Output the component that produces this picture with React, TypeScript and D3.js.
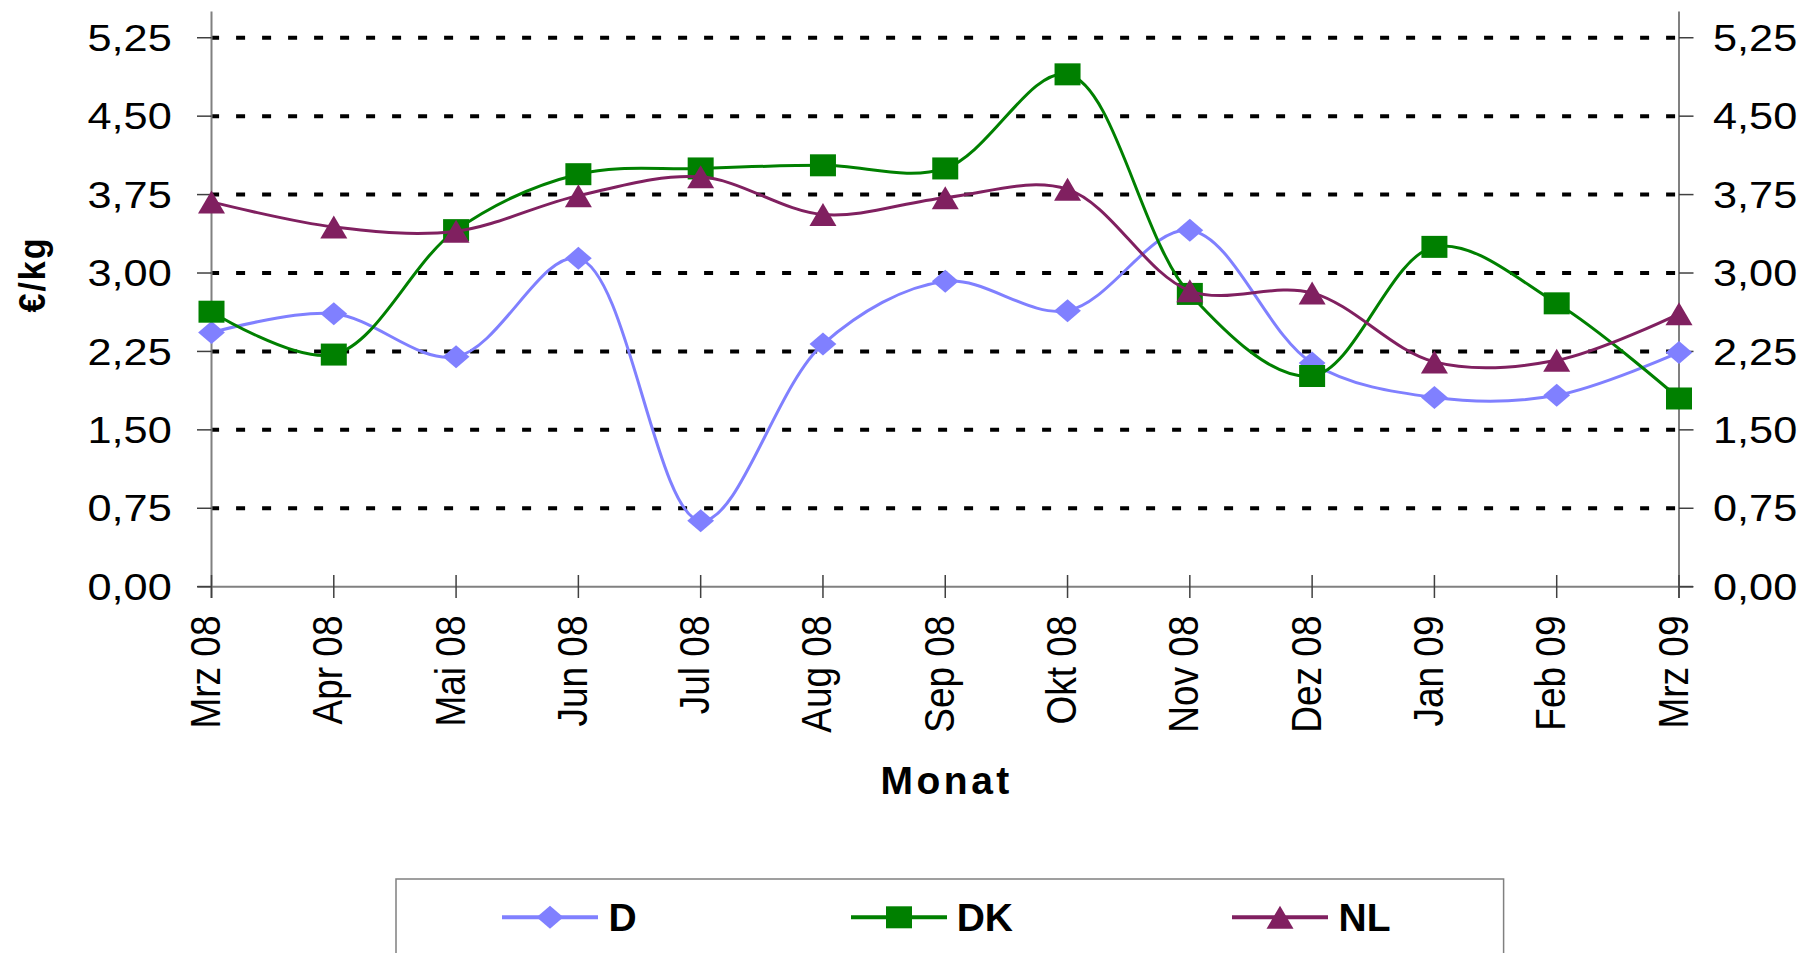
import React from 'react';
import * as d3 from 'd3';

const months = ['Mrz 08', 'Apr 08', 'Mai 08', 'Jun 08', 'Jul 08', 'Aug 08', 'Sep 08', 'Okt 08', 'Nov 08', 'Dez 08', 'Jan 09', 'Feb 09', 'Mrz 09'];
const seriesD = [2.43, 2.61, 2.20, 3.14, 0.63, 2.32, 2.92, 2.64, 3.41, 2.14, 1.81, 1.83, 2.24];
const seriesDK = [2.63, 2.22, 3.41, 3.945, 4.00, 4.03, 4.00, 4.90, 2.80, 2.015, 3.25, 2.71, 1.80];
const seriesNL = [3.68, 3.44, 3.40, 3.74, 3.92, 3.56, 3.72, 3.80, 2.83, 2.81, 2.15, 2.165, 2.61];
const yTicks = [0, 0.75, 1.5, 2.25, 3, 3.75, 4.5, 5.25];
const seriesNames = ['D', 'DK', 'NL'];
const seriesColors = ['#8080FF', '#008000', '#802060'];
const yTitle = '€/kg';
const xTitle = 'Monat';

const FONT = '"Liberation Sans", Arial, sans-serif';

function Marker({ kind, color }: { kind: number; color: string }) {
  if (kind === 0) return <path d="M0,-11.5 L13.4,0 L0,11.5 L-13.4,0 Z" fill={color} />;
  if (kind === 1) return <rect x={-13} y={-11} width={26} height={22} fill={color} />;
  return <path d="M0,-11.5 L13.5,11.5 L-13.5,11.5 Z" fill={color} />;
}

export default function App() {
  const W = 1807;
  const H = 953;
  const x = d3.scalePoint<string>().domain(months).range([211.5, 1679]);
  const y = d3.scaleLinear().domain([0, 5.5]).range([586.7, 11.6]);
  const series = [seriesD, seriesDK, seriesNL];
  const line = d3
    .line<number>()
    .x((_, i) => x(months[i]) as number)
    .y((d) => y(d))
    .curve(d3.curveCatmullRom.alpha(0.5));
  const fmt = (v: number) => v.toFixed(2).replace('.', ',');
  const x0 = x(months[0]) as number;
  const x1 = x(months[months.length - 1]) as number;
  const sx = 1.17;

  const legendLineStarts = [502, 851, 1232];
  const legendTextX = [608.5, 956.7, 1338.6];

  return (
    <svg width={W} height={H} style={{ position: 'absolute', left: 0, top: 0, background: '#fff' }} fontFamily={FONT}>
      <rect x={0} y={0} width={W} height={H} fill="#fff" />
      {/* gridlines */}
      {yTicks.filter((t) => t > 0).map((t) => (
        <line key={'g' + t} x1={x0} x2={x1} y1={y(t)} y2={y(t)} stroke="#000" strokeWidth={4} strokeDasharray="9 17" strokeDashoffset={1.4} />
      ))}
      {/* axes */}
      <line x1={x0} x2={x0} y1={y(5.5)} y2={598} stroke="#808080" strokeWidth={2} />
      <line x1={x1} x2={x1} y1={y(5.5)} y2={598} stroke="#808080" strokeWidth={2} />
      <line x1={x0 - 14} x2={x1 + 14} y1={y(0)} y2={y(0)} stroke="#808080" strokeWidth={2} />
      {yTicks.map((t) => (
        <g key={'t' + t}>
          <line x1={x0 - 14.5} x2={x0} y1={y(t)} y2={y(t)} stroke="#404040" strokeWidth={1.5} />
          <line x1={x1} x2={x1 + 14.5} y1={y(t)} y2={y(t)} stroke="#404040" strokeWidth={1.5} />
          <text transform={`translate(171.7,${y(t) + 13.2}) scale(${sx},1)`} textAnchor="end" fontSize={37} fill="#000">{fmt(t)}</text>
          <text transform={`translate(1713,${y(t) + 13.2}) scale(${sx},1)`} textAnchor="start" fontSize={37} fill="#000">{fmt(t)}</text>
        </g>
      ))}
      {months.map((m) => (
        <g key={'x' + m}>
          <line x1={x(m)} x2={x(m)} y1={575} y2={598} stroke="#404040" strokeWidth={1.5} />
          <text transform={`translate(${(x(m) as number) + 8.5},615.5) scale(${sx},1) rotate(-90)`} textAnchor="end" fontSize={37} fill="#000">{m}</text>
        </g>
      ))}
      {/* titles */}
      <text transform={`translate(44.5,274.5) scale(1.1,1) rotate(-90)`} textAnchor="middle" fontSize={34} fontWeight="bold" letterSpacing={2} fill="#000">{yTitle}</text>
      <text x={946.7} y={793.5} textAnchor="middle" fontSize={39} fontWeight="bold" letterSpacing={3.5} fill="#000">{xTitle}</text>
      {/* series */}
      {series.map((s, si) => (
        <g key={'s' + si}>
          <path d={line(s) as string} fill="none" stroke={seriesColors[si]} strokeWidth={3} />
          {s.map((v, i) => (
            <g key={i} transform={`translate(${x(months[i])},${y(v)})`}>
              <Marker kind={si} color={seriesColors[si]} />
            </g>
          ))}
        </g>
      ))}
      {/* legend */}
      <rect x={396} y={879} width={1107.6} height={100} fill="#fff" stroke="#808080" strokeWidth={1.5} />
      {seriesNames.map((n, i) => (
        <g key={'l' + n}>
          <line x1={legendLineStarts[i]} x2={legendLineStarts[i] + 96} y1={917.3} y2={917.3} stroke={seriesColors[i]} strokeWidth={4} />
          <g transform={`translate(${legendLineStarts[i] + 48},917.3)`}>
            <Marker kind={i} color={seriesColors[i]} />
          </g>
          <text x={legendTextX[i]} y={930.7} fontSize={39} fontWeight="bold" fill="#000">{n}</text>
        </g>
      ))}
    </svg>
  );
}
